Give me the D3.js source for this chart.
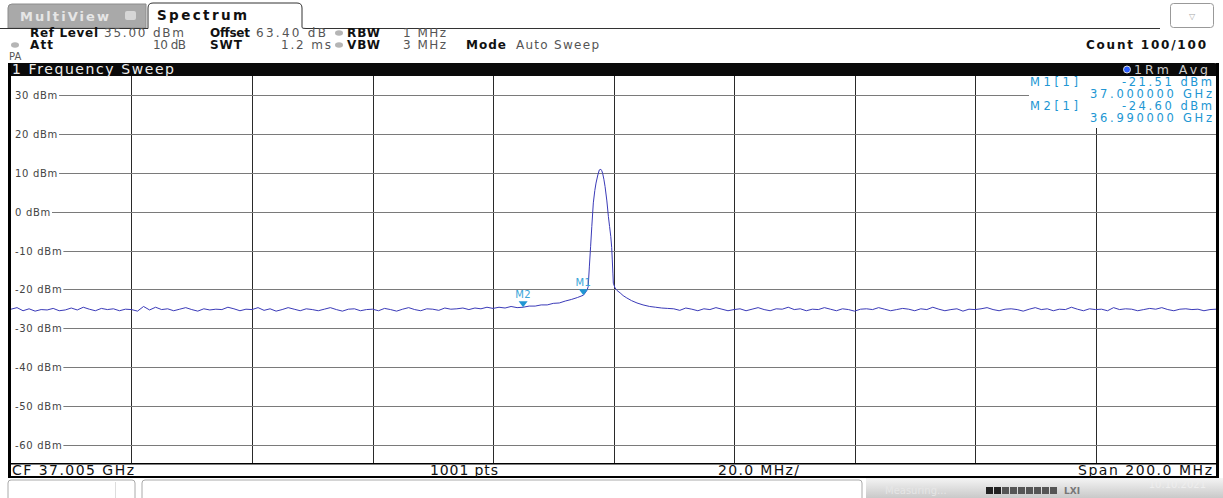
<!DOCTYPE html>
<html>
<head>
<meta charset="utf-8">
<script src="https://cdn.jsdelivr.net/npm/d3@7"></script>
<style>
  body { margin: 0; background: #fff; }
  svg text { font-family: "DejaVu Sans", Verdana, sans-serif; }
</style>
</head>
<body>
<div id="chart"></div>
<script>
// sweep settings
var startGHz = 36.905;
var stopGHz = 37.105;
var refLevel = 35;
var bottomLevel = -65;

var levelTicks = [30, 20, 10, 0, -10, -20, -30, -40, -50, -60];
var freqGrid = [36.925, 36.945, 36.965, 36.985, 37.005, 37.025, 37.045, 37.065, 37.085];

// trace (dBm). floorLeft: 1 MHz steps from start (0..95 MHz)
var floorLeft = [
  -25.1,-24.7,-25.5,-25.0,-25.6,-25.2,-25.3,-24.9,-25.5,-25.3,
  -24.8,-25.3,-24.6,-25.1,-25.5,-24.9,-25.2,-25.0,-25.5,-25.1,
  -25.2,-25.6,-24.4,-25.3,-24.6,-25.2,-25.0,-25.5,-25.1,-24.7,
  -25.2,-25.6,-25.0,-25.3,-25.1,-25.2,-24.6,-25.0,-25.5,-25.1,
  -25.2,-24.7,-25.4,-25.0,-25.6,-25.2,-24.7,-25.1,-25.5,-25.0,
  -25.2,-25.5,-25.1,-24.7,-25.2,-25.6,-25.1,-25.0,-25.5,-25.2,
  -25.1,-25.5,-24.9,-25.2,-25.6,-25.1,-24.7,-25.2,-25.5,-25.0,
  -25.1,-25.4,-24.8,-25.1,-25.0,-24.8,-25.2,-24.8,-25.0,-24.6,
  -24.9,-24.6,-24.8,-24.4,-24.7,-24.6,-24.3,-24.3,-24.0,-24.0,
  -23.6,-23.5,-23.0,-22.6,-22.1,-21.5
];
// carrier, irregular steps (MHz from start)
var peakFreq = [95.3, 95.6, 95.8, 96.0, 96.2, 96.4, 96.65, 96.9, 97.1, 97.4, 97.65, 97.9, 98.05, 98.2, 98.4, 98.6, 98.9, 99.15, 99.35, 99.55, 99.7, 99.8, 99.9, 99.97, 100.25, 100.6, 101.1, 101.6, 102.2, 103.0, 103.9, 104.9, 106.0, 107.0, 108.0, 109.0];
var peakLevel = [-20.9, -20.2, -19.3, -14.0, -9.0, -3.8, 2.3, 5.5, 7.4, 9.5, 10.8, 10.95, 10.6, 9.9, 8.4, 6.5, 2.8, -1.2, -3.8, -6.4, -9.2, -12.4, -15.8, -18.4, -19.6, -20.3, -20.9, -21.6, -22.2, -22.9, -23.5, -24.0, -24.4, -24.6, -24.8, -24.9];
// floorRight: 1 MHz steps from 110 to 200 MHz
var floorRight = [
  -25.0,-25.4,-24.8,-25.1,-25.5,-25.0,-25.2,-24.7,-25.1,-25.5,
  -25.2,-25.0,-25.5,-25.1,-24.7,-25.2,-25.5,-25.0,-25.1,-24.6,
  -25.2,-25.0,-25.5,-25.1,-25.2,-24.7,-25.1,-25.5,-25.0,-25.2,
  -25.6,-25.1,-25.0,-25.2,-24.7,-25.1,-25.5,-25.2,-24.9,-25.1,
  -25.5,-25.0,-25.2,-24.6,-25.1,-25.5,-25.2,-25.0,-25.6,-25.1,
  -25.2,-25.0,-24.7,-25.2,-25.5,-25.1,-25.0,-25.2,-25.6,-25.1,
  -24.7,-25.2,-25.0,-25.5,-25.1,-25.2,-24.6,-25.1,-25.5,-25.0,
  -25.2,-25.1,-25.5,-24.7,-25.2,-25.0,-25.1,-25.5,-25.2,-24.9,
  -25.1,-24.7,-25.2,-25.5,-25.1,-25.0,-25.2,-25.1,-25.5,-25.2,
  -25.1
];

var markers = [
  { name: "M1", freq: 37.000, level: -21.51 },
  { name: "M2", freq: 36.990, level: -24.60 }
];

var W = 1223, H = 498;
var markerColor = "#2196d3";
var traceColor = "#3a3ab8";

var svg = d3.select("#chart").append("svg")
  .attr("width", W).attr("height", H);

var x = d3.scaleLinear().domain([startGHz, stopGHz]).range([11, 1216]);
var y = d3.scaleLinear().domain([bottomLevel, refLevel]).range([464, 76]);

// text with a fixed drawn width (the analyser font is wide spaced)
function txt(g, tx, ty, s, size, w, opts) {
  opts = opts || {};
  var t = g.append("text").attr("x", tx).attr("y", ty)
    .attr("font-size", size)
    .attr("font-weight", opts.bold ? "bold" : "normal")
    .attr("text-anchor", opts.anchor || "start")
    .attr("fill", opts.fill || "#222")
    .text(s);
  if (w) t.attr("textLength", w).attr("lengthAdjust", "spacing");
  return t;
}

// ---- tabs ----
var tabs = svg.append("g");
tabs.append("path")
  .attr("d", "M8,28 V8 Q8,4 12,4 H146 V28 Z")
  .attr("fill", "#a9a9a9").attr("stroke", "#8c8c8c");
txt(tabs, 20, 21, "MultiView", 13, 89, { bold: true, fill: "#e6e6e6" });
tabs.append("rect").attr("x", 125).attr("y", 11).attr("width", 11).attr("height", 9)
  .attr("rx", 2).attr("fill", "#d6d6d6");
tabs.append("path")
  .attr("d", "M0,28.5 H148 V8 Q148,3 153,3 H297 Q302,3 302,8 V27.5 Q302,28.5 306,28.5 H1160")
  .attr("fill", "none").attr("stroke", "#333").attr("stroke-width", 1);
txt(tabs, 157, 20, "Spectrum", 13.5, 90, { bold: true, fill: "#111" });
tabs.append("rect").attr("x", 1170.5).attr("y", 3.5).attr("width", 43).attr("height", 24)
  .attr("rx", 3).attr("fill", "#fff").attr("stroke", "#999");
tabs.append("text").attr("x", 1192).attr("y", 19).attr("text-anchor", "middle")
  .attr("font-size", 8).attr("fill", "#aaa").text("\u25BD");

// ---- settings header ----
var hdr = svg.append("g");
var lab = { bold: true, fill: "#111" };
var val = { fill: "#555" };
var valEnd = { fill: "#555", anchor: "end" };
function dot(cx, cy) {
  hdr.append("ellipse").attr("cx", cx).attr("cy", cy).attr("rx", 4).attr("ry", 2.8).attr("fill", "#b5b5b5");
}
txt(hdr, 30, 37, "Ref Level", 12, 68, lab);
txt(hdr, 104, 37, "35.00 dBm", 12, 80, val);
txt(hdr, 210, 37, "Offset", 12, 40, lab);
txt(hdr, 256, 37, "63.40 dB", 12, 70, val);
dot(339, 33);
txt(hdr, 347, 37, "RBW", 12, 33, lab);
txt(hdr, 403, 37, "1 MHz", 12, 43, val);
dot(15, 45);
txt(hdr, 30, 49, "Att", 12, 23, lab);
txt(hdr, 186, 49, "10 dB", 12, 33, valEnd);
txt(hdr, 210, 49, "SWT", 12, 32, lab);
txt(hdr, 331, 49, "1.2 ms", 12, 50, valEnd);
dot(339, 45);
txt(hdr, 347, 49, "VBW", 12, 33, lab);
txt(hdr, 403, 49, "3 MHz", 12, 43, val);
txt(hdr, 466, 49, "Mode", 12, 40, lab);
txt(hdr, 516, 49, "Auto Sweep", 12, 83, val);
txt(hdr, 9, 60, "PA", 10, 0, val);
txt(hdr, 1206, 49, "Count 100/100", 12, 120, { bold: true, fill: "#111", anchor: "end" });

// ---- diagram frame ----
svg.append("path")
  .attr("d", "M8,76 V66 Q8,63 11,63 H1214 Q1219,63 1219,68 V76 Z")
  .attr("fill", "#0a0a0a");
txt(svg, 12, 74, "1 Frequency Sweep", 14, 162, { fill: "#eee" });
svg.append("circle").attr("cx", 1127).attr("cy", 69.5).attr("r", 3.5)
  .attr("fill", "#2a5cff").attr("stroke", "#ddd").attr("stroke-width", 1);
txt(svg, 1208, 74, "1Rm Avg", 12.5, 74, { fill: "#ccc", anchor: "end" });

svg.append("rect").attr("x", 8).attr("y", 63).attr("width", 3).attr("height", 415).attr("fill", "#000");
svg.append("rect").attr("x", 1216).attr("y", 63).attr("width", 3).attr("height", 415).attr("fill", "#000");

// ---- grid ----
var grid = svg.append("g");
grid.selectAll(".vg").data(freqGrid).enter().append("line")
  .attr("x1", function(d) { return Math.round(x(d)) + 0.5; })
  .attr("x2", function(d) { return Math.round(x(d)) + 0.5; })
  .attr("y1", 76).attr("y2", 463)
  .attr("stroke", "#2a2a2a").attr("stroke-width", 1);

var ylab = grid.selectAll(".yl").data(levelTicks).enter().append("text")
  .attr("x", 15)
  .attr("y", function(d) { return Math.round(y(d)) + 3.5; })
  .attr("font-size", 10).attr("fill", "#444")
  .attr("letter-spacing", 0.7)
  .text(function(d) { return d + " dBm"; });
ylab.each(function(d) {
  var endX = 15 + this.getComputedTextLength() + 1;
  grid.append("line")
    .attr("x1", endX).attr("x2", 1216)
    .attr("y1", Math.round(y(d)) + 0.5).attr("y2", Math.round(y(d)) + 0.5)
    .attr("stroke", "#7a7a7a").attr("stroke-width", 1);
});

// ---- trace ----
var trace = [];
floorLeft.forEach(function(v, i) { trace.push([startGHz + i / 1000, v]); });
peakFreq.forEach(function(f, i) { trace.push([startGHz + f / 1000, peakLevel[i]]); });
floorRight.forEach(function(v, i) { trace.push([startGHz + (110 + i) / 1000, v]); });

var line = d3.line()
  .x(function(d) { return x(d[0]); })
  .y(function(d) { return y(d[1]); });
svg.append("path").datum(trace)
  .attr("d", line)
  .attr("fill", "none").attr("stroke", traceColor).attr("stroke-width", 1);

// ---- markers on trace ----
var mk = svg.append("g").selectAll("g").data(markers).enter().append("g")
  .attr("transform", function(d) { return "translate(" + x(d.freq) + "," + y(d.level) + ")"; });
mk.append("path").attr("d", "M-4.5,-6 H4.5 L0,0 Z").attr("fill", markerColor);
mk.append("text").attr("y", -9).attr("text-anchor", "middle")
  .attr("font-size", 10).attr("fill", "#3aa6d8").attr("letter-spacing", 0.5)
  .text(function(d) { return d.name; });

// ---- marker table ----
svg.append("rect").attr("x", 1029).attr("y", 76).attr("width", 187).attr("height", 52).attr("fill", "#fff");
var tbl = svg.append("g");
var mcol = { fill: markerColor };
var mcolEnd = { fill: markerColor, anchor: "end" };
markers.forEach(function(m, i) {
  var ty = 86 + i * 24;
  txt(tbl, 1030, ty, m.name + "[1]", 11.5, 48, mcol);
  txt(tbl, 1212, ty, d3.format(".2f")(m.level).replace("\u2212", "-") + " dBm", 11.5, 90, mcolEnd);
  txt(tbl, 1212, ty + 12, d3.format(".6f")(m.freq) + " GHz", 11.5, 122, mcolEnd);
});

// ---- footer ----
svg.append("rect").attr("x", 8).attr("y", 463).attr("width", 1211).attr("height", 1.5).attr("fill", "#000");
svg.append("rect").attr("x", 8).attr("y", 476).attr("width", 1211).attr("height", 2).attr("fill", "#000");
var ft = svg.append("g");
var fo = { fill: "#111" };
txt(ft, 12, 475, "CF " + d3.format(".3f")((startGHz + stopGHz) / 2) + " GHz", 14, 122, fo);
txt(ft, 430, 475, "1001 pts", 14, 68, fo);
txt(ft, 718, 475, "20.0 MHz/", 14, 81, fo);
txt(ft, 1212, 475, "Span 200.0 MHz", 14, 134, { fill: "#111", anchor: "end" });

// ---- status strip ----
var defs = svg.append("defs");
var grad = defs.append("linearGradient").attr("id", "status-grad")
  .attr("x1", "0%").attr("y1", "0%").attr("x2", "0%").attr("y2", "100%");
grad.append("stop").attr("offset", "0%").attr("stop-color", "#f4f4f4");
grad.append("stop").attr("offset", "100%").attr("stop-color", "#c9c9c9");
svg.append("rect").attr("x", 866).attr("y", 478).attr("width", 357).attr("height", 20).attr("fill", "url(#status-grad)");
svg.append("path").attr("d", "M8,498 V483 Q8,480 11,480 H132 Q135,480 135,483 V498")
  .attr("fill", "none").attr("stroke", "#aaa");
svg.append("line").attr("x1", 115.5).attr("x2", 115.5).attr("y1", 482).attr("y2", 498).attr("stroke", "#ddd");
svg.append("path").attr("d", "M142,498 V483 Q142,480 145,480 H859 Q862,480 862,483 V498")
  .attr("fill", "none").attr("stroke", "#aaa");
txt(svg, 885, 494, "Measuring...", 10, 0, { fill: "#e6e6e6" });
var bars = svg.append("g");
d3.range(9).forEach(function(i) {
  bars.append("rect").attr("x", 986 + i * 8).attr("y", 487).attr("width", 7).attr("height", 7)
    .attr("fill", i < 2 ? "#222" : "#555");
});
txt(svg, 1064, 494, "LXI", 9, 0, { fill: "#777", bold: true });
txt(svg, 1206, 488, "10.10.2021", 10, 0, { fill: "#eee", anchor: "end" });
</script>
</body>
</html>
